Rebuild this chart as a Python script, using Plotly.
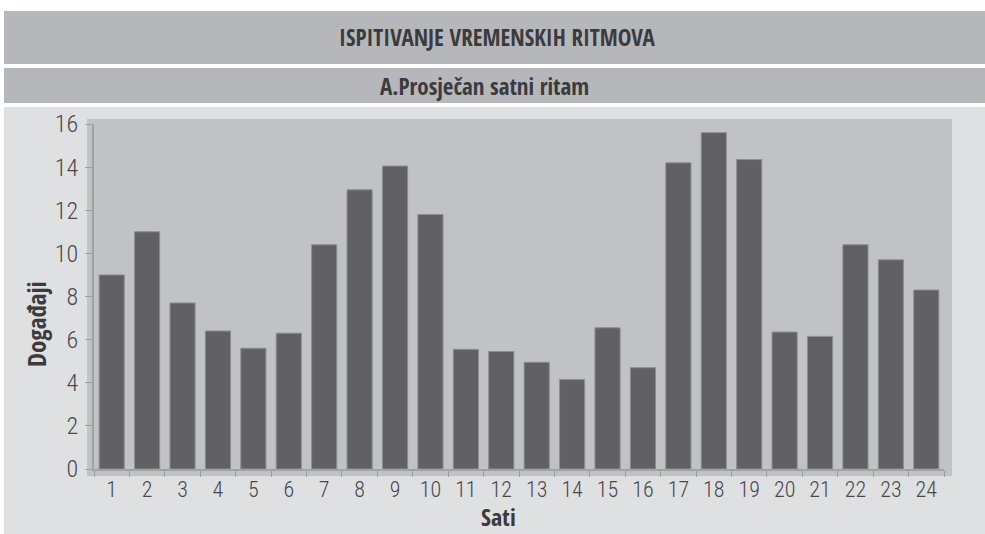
import plotly.graph_objects as go

# data
hours = ['1', '2', '3', '4', '5', '6', '7', '8', '9', '10', '11', '12',
         '13', '14', '15', '16', '17', '18', '19', '20', '21', '22', '23', '24']
events = [9.0, 11.0, 7.7, 6.4, 5.6, 6.3, 10.4, 12.95, 14.05, 11.8, 5.55, 5.45,
          4.95, 4.15, 6.55, 4.7, 14.2, 15.6, 14.35, 6.35, 6.15, 10.4, 9.7, 8.3]
y_ticks = [0, 2, 4, 6, 8, 10, 12, 14, 16]

title_main = 'ISPITIVANJE VREMENSKIH RITMOVA'
title_sub = 'A.Prosječan satni ritam'
x_title = 'Sati'
y_title = 'Događaji'

BOLD = 'Open Sans Condensed, Roboto Condensed, sans-serif'
TICK = 'Roboto Condensed, sans-serif'
TEXT = '#3b3b3d'

W, H = 985, 534
L, R, T, B = 94, 41, 124, 65
pw, ph = W - L - R, H - T - B


# pixel -> paper helpers for the decoration
def px(x):
    return (x - L) / pw


def py(y):
    return (H - B - y) / ph


def box(x0, y0, x1, y1, color):
    return dict(type='rect', xref='paper', yref='paper', layer='below',
                x0=px(x0), x1=px(x1), y0=py(y1), y1=py(y0),
                fillcolor=color, line_width=0)


def label(text, x, y, size, angle=0):
    return dict(text=text, xref='paper', yref='paper', x=px(x), y=py(y),
                xanchor='center', yanchor='middle',
                textangle=angle, showarrow=False,
                font=dict(family=BOLD, size=size, color=TEXT))


fig = go.Figure(go.Bar(
    x=hours,
    y=events,
    marker_color='#616163',
    marker_line=dict(color='#8e8e91', width=1),
))

fig.update_layout(
    width=W, height=H,
    margin=dict(l=L, r=R, t=T, b=B),
    paper_bgcolor='white',
    plot_bgcolor='rgba(0,0,0,0)',
    bargap=0.29,
    showlegend=False,
    font=dict(family=TICK, color=TEXT),
    shapes=[
        box(4, 107, 985, 534, '#dfe0e2'),
        box(87, 119, 952, 476, '#c1c2c4'),
        box(4, 11, 985, 64, '#b6b7ba'),
        box(4, 68, 985, 103, '#b6b7ba'),
    ],
    annotations=[
        label(title_main, 497, 37, 23),
        label(title_sub, 484, 86, 23),
        label(y_title, 36, 324, 25, angle=-90),
        label(x_title, 498, 516, 24),
    ],
)

fig.update_xaxes(
    type='category',
    range=[-0.5, 23.5],
    tickson='boundaries',
    ticks='outside', ticklen=6, tickcolor='#9d9d9f', tickwidth=1,
    showline=True, linecolor='#a2a2a4', linewidth=2,
    showgrid=False, zeroline=False,
    tickfont=dict(family=TICK, size=22, color='#48484a', weight=300),
)
fig.update_yaxes(
    range=[0, 16],
    tickvals=y_ticks,
    ticks='outside', ticklen=7, tickcolor='#9d9d9f', tickwidth=1,
    ticklabelstandoff=2,
    showline=True, linecolor='#a2a2a4', linewidth=2,
    showgrid=False, zeroline=False,
    tickfont=dict(family=TICK, size=24, color='#48484a', weight=300),
)

fig.write_html('out.html', config={'displayModeBar': False},
               post_script="document.body.style.margin='0';")
